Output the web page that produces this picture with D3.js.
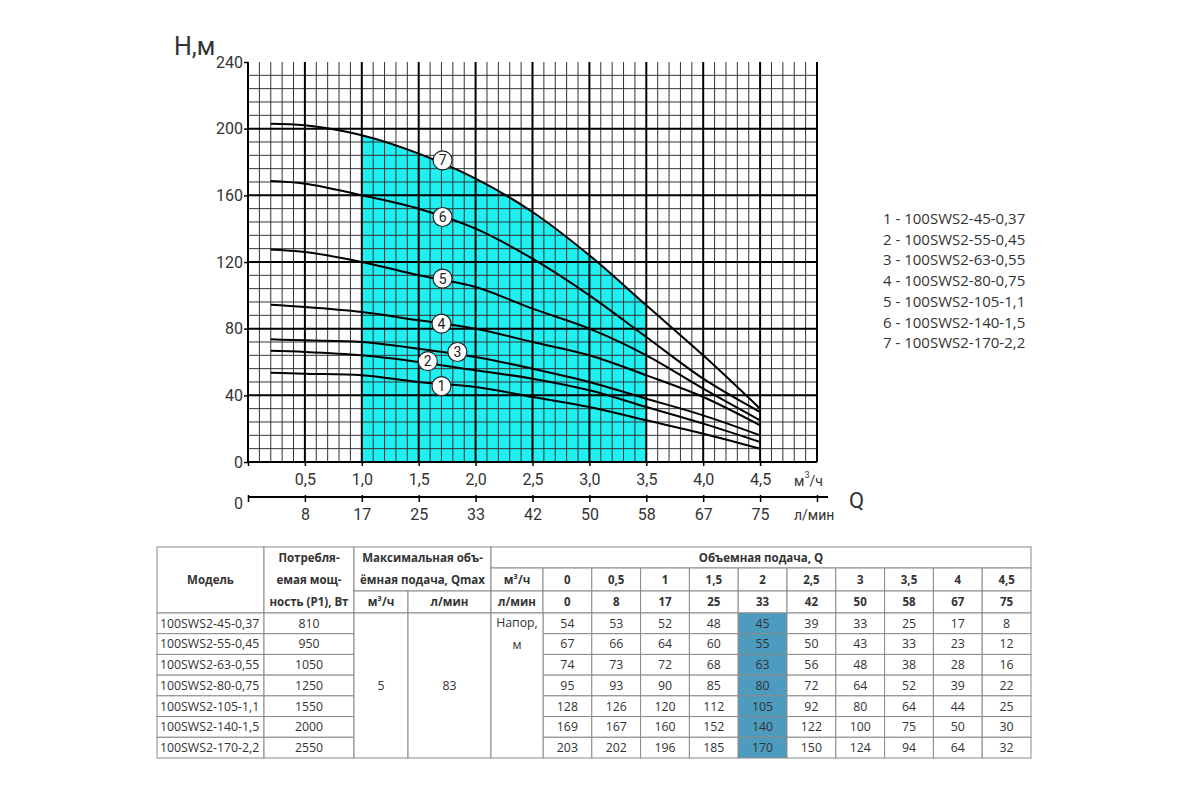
<!DOCTYPE html>
<html><head><meta charset="utf-8">
<script src="https://cdn.jsdelivr.net/npm/d3@7"></script>
<style>
body{margin:0;background:#fff;}
svg{display:block;}
</style></head><body>
<svg id="c" width="1200" height="800"></svg>
<script>
// ---------- data ----------
const qM3 = [0, 0.5, 1, 1.5, 2, 2.5, 3, 3.5, 4, 4.5];
const qLabelsM3 = ["0", "0,5", "1", "1,5", "2", "2,5", "3", "3,5", "4", "4,5"];
const qLabelsLmin = ["0", "8", "17", "25", "33", "42", "50", "58", "67", "75"];
const axisM3Labels = ["", "0,5", "1,0", "1,5", "2,0", "2,5", "3,0", "3,5", "4,0", "4,5"];
const axisLminLabels = ["", "8", "17", "25", "33", "42", "50", "58", "67", "75"];
const yTicks = [0, 40, 80, 120, 160, 200, 240];
const models = ["100SWS2-45-0,37", "100SWS2-55-0,45", "100SWS2-63-0,55", "100SWS2-80-0,75",
                "100SWS2-105-1,1", "100SWS2-140-1,5", "100SWS2-170-2,2"];
const power = [810, 950, 1050, 1250, 1550, 2000, 2550];
const head1 = [54, 53, 52, 48, 45, 39, 33, 25, 17, 8];
const head2 = [67, 66, 64, 60, 55, 50, 43, 33, 23, 12];
const head3 = [74, 73, 72, 68, 63, 56, 48, 38, 28, 16];
const head4 = [95, 93, 90, 85, 80, 72, 64, 52, 39, 22];
const head5 = [128, 126, 120, 112, 105, 92, 80, 64, 44, 25];
const head6 = [169, 167, 160, 152, 140, 122, 100, 75, 50, 30];
const head7 = [203, 202, 196, 185, 170, 150, 124, 94, 64, 32];
const heads = [head1, head2, head3, head4, head5, head6, head7];
const qmaxM3 = "5", qmaxLmin = "83";
const highlightQ = 2;
const workStart = 1.0, workEnd = 3.5;
const curveStart = 0.2;
const labelQ = [1.70, 1.58, 1.84, 1.70, 1.71, 1.71, 1.71];
const labelH = [45.5, 60.5, 66, 83, 110, 147, 181];

// ---------- setup ----------
const svg = d3.select("#c");
const chartFont = "Roboto, 'DejaVu Sans', sans-serif";
const tableFont = "'Open Sans', 'Noto Sans', sans-serif";
const x = d3.scaleLinear().domain([0, 5]).range([248, 817]);
const y = d3.scaleLinear().domain([0, 240]).range([462, 62]);
const curveType = d3.curveCatmullRom.alpha(0.5);

const defs = svg.append("defs");
defs.append("clipPath").attr("id", "workClip").append("rect")
  .attr("x", x(workStart)).attr("y", 0).attr("width", x(workEnd) - x(workStart)).attr("height", 800);
defs.append("clipPath").attr("id", "curveClip").append("rect")
  .attr("x", x(curveStart)).attr("y", 0).attr("width", x(5) - x(curveStart)).attr("height", 800);

// working area fill (under curve 7)
const pts7 = qM3.map((q, i) => ({q, h: head7[i]}));
const area = d3.area().x(d => x(d.q)).y0(y(0)).y1(d => y(d.h)).curve(curveType);
svg.append("path").datum(pts7).attr("d", area)
  .attr("fill", "#1ff0f2").attr("clip-path", "url(#workClip)");

// grid
const grid = svg.append("g");
const vMinor = d3.range(0, 51).map(i => i / 10).filter((d, i) => i % 5 !== 0);
const hMinor = d3.range(0, 31).map(i => i * 8).filter((d, i) => i % 5 !== 0);
grid.selectAll(".vm").data(vMinor).join("line")
  .attr("x1", d => x(d)).attr("x2", d => x(d)).attr("y1", y(0)).attr("y2", y(240))
  .attr("stroke", "#333").attr("stroke-width", 1);
grid.selectAll(".hm").data(hMinor).join("line")
  .attr("x1", x(0)).attr("x2", x(5)).attr("y1", d => y(d)).attr("y2", d => y(d))
  .attr("stroke", "#333").attr("stroke-width", 1);
const vMajor = d3.range(0, 11).map(i => i / 2);
const hMajor = [0, 40, 80, 120, 160, 200];
grid.selectAll(".vM").data(vMajor).join("line")
  .attr("x1", d => x(d)).attr("x2", d => x(d)).attr("y1", y(0)).attr("y2", y(240))
  .attr("stroke", "#000").attr("stroke-width", 2);
grid.selectAll(".hM").data(hMajor).join("line")
  .attr("x1", x(0)).attr("x2", x(5)).attr("y1", d => y(d)).attr("y2", d => y(d))
  .attr("stroke", "#000").attr("stroke-width", 2);

// curves
const line = d3.line().x(d => x(d.q)).y(d => y(d.h)).curve(curveType);
svg.append("g").attr("clip-path", "url(#curveClip)")
  .selectAll("path").data(heads).join("path")
  .attr("d", hs => line(qM3.map((q, i) => ({q, h: hs[i]}))))
  .attr("fill", "none").attr("stroke", "#000").attr("stroke-width", 2);

// curve labels
const lab = svg.append("g").selectAll("g").data(labelQ).join("g")
  .attr("transform", (d, i) => `translate(${x(d)},${y(labelH[i])})`);
lab.append("circle").attr("r", 9.5).attr("fill", "#fff").attr("stroke", "#222").attr("stroke-width", 1.2);
lab.append("text").text((d, i) => i + 1).attr("text-anchor", "middle").attr("dy", "0.36em")
  .attr("font-family", chartFont).attr("font-size", 14).attr("fill", "#222");

// axes
function styleAxis(g) {
  g.selectAll("text").attr("font-family", chartFont).attr("font-size", 16).attr("fill", "#333");
  g.selectAll("line").attr("stroke", "#000").attr("stroke-width", 1.5);
}
const yAxis = svg.append("g").attr("transform", `translate(${x(0)},0)`)
  .call(d3.axisLeft(y).tickValues(yTicks).tickSize(4).tickPadding(1).tickFormat(d3.format("d")));
yAxis.select(".domain").remove();
styleAxis(yAxis);

const xAxis1 = svg.append("g").attr("transform", `translate(0,${y(0)})`)
  .call(d3.axisBottom(x).tickValues(qM3).tickSize(4).tickPadding(8).tickFormat((d, i) => axisM3Labels[i]));
xAxis1.select(".domain").remove();
styleAxis(xAxis1);

const axis2Y = 497;
const xAxis2 = svg.append("g").attr("transform", `translate(0,${axis2Y})`)
  .call(d3.axisBottom(x).tickValues(qM3.concat([5])).tickSize(5).tickPadding(7)
    .tickFormat((d, i) => axisLminLabels[i] || ""));
xAxis2.select(".domain").remove();
xAxis2.selectAll(".tick line").attr("y1", -2);
styleAxis(xAxis2);
svg.append("line").attr("x1", x(0)).attr("x2", x(5) + 11).attr("y1", axis2Y).attr("y2", axis2Y)
  .attr("stroke", "#000").attr("stroke-width", 1.8);
svg.append("text").text("0").attr("x", 243).attr("y", axis2Y + 6).attr("dy", "0.35em")
  .attr("text-anchor", "end").attr("font-family", chartFont).attr("font-size", 16).attr("fill", "#333");

// axis titles
svg.append("text").text("Н,м").attr("x", 174).attr("y", 55)
  .attr("font-family", chartFont).attr("font-size", 25).attr("fill", "#333");
svg.append("text").text("Q").attr("x", 849).attr("y", 508)
  .attr("font-family", chartFont).attr("font-size", 22).attr("fill", "#333");
const mt = svg.append("text").attr("x", 794).attr("y", 486)
  .attr("font-family", chartFont).attr("font-size", 14).attr("fill", "#333");
mt.append("tspan").text("м");
mt.append("tspan").text("3").attr("font-size", 9).attr("dy", -8);
mt.append("tspan").text("/ч").attr("dy", 8);
svg.append("text").text("л/мин").attr("x", 794).attr("y", 520)
  .attr("font-family", chartFont).attr("font-size", 14).attr("fill", "#333");

// legend
svg.append("g").selectAll("text").data(models).join("text")
  .attr("x", 883).attr("y", (d, i) => 224 + i * 20.7)
  .text((d, i) => `${i + 1} - ${d}`)
  .attr("font-family", tableFont).attr("font-size", 15).attr("fill", "#333");

// ---------- table ----------
const T = svg.append("g");
const colEdges = [157, 264, 354, 408, 491, 543, 1031];
const rowTop = 547, rowH1 = 568, rowH2 = 591, rowH3 = 613, rowBottom = 758;
const colQ = d3.scaleBand().domain(qM3).range([colEdges[5], colEdges[6]]);
const rowS = d3.scaleBand().domain(d3.range(models.length)).range([rowH3, rowBottom]);
const cells = [];
function cell(x0, x1, y0, y1, lines, opt = {}) { cells.push({x0, x1, y0, y1, lines, ...opt}); }
// header
cell(colEdges[0], colEdges[1], rowTop, rowH3, ["Модель"], {bold: true});
cell(colEdges[1], colEdges[2], rowTop, rowH3, ["Потребля-", "емая мощ-", "ность (P1), Вт"], {bold: true, lh: 22});
cell(colEdges[2], colEdges[4], rowTop, rowH2, ["Максимальная объ-", "ёмная подача, Qmax"], {bold: true, lh: 22});
cell(colEdges[2], colEdges[3], rowH2, rowH3, ["м³/ч"], {bold: true});
cell(colEdges[3], colEdges[4], rowH2, rowH3, ["л/мин"], {bold: true});
cell(colEdges[4], colEdges[6], rowTop, rowH1, ["Объемная подача, Q"], {bold: true});
cell(colEdges[4], colEdges[5], rowH1, rowH2, ["м³/ч"], {bold: true});
cell(colEdges[4], colEdges[5], rowH2, rowH3, ["л/мин"], {bold: true});
qM3.forEach((q, j) => {
  cell(colQ(q), colQ(q) + colQ.bandwidth(), rowH1, rowH2, [qLabelsM3[j]], {bold: true});
  cell(colQ(q), colQ(q) + colQ.bandwidth(), rowH2, rowH3, [qLabelsLmin[j]], {bold: true});
});
// body
models.forEach((m, i) => {
  const y0 = rowS(i), y1 = y0 + rowS.bandwidth();
  cell(colEdges[0], colEdges[1], y0, y1, [m], {left: true});
  cell(colEdges[1], colEdges[2], y0, y1, [String(power[i])]);
  qM3.forEach((q, j) => {
    cell(colQ(q), colQ(q) + colQ.bandwidth(), y0, y1, [String(heads[i][j])],
      {fill: q === highlightQ ? "#4d9cc0" : null});
  });
});
cell(colEdges[2], colEdges[3], rowH3, rowBottom, [qmaxM3]);
cell(colEdges[3], colEdges[4], rowH3, rowBottom, [qmaxLmin]);
cell(colEdges[4], colEdges[5], rowH3, rowBottom, ["Напор,", "м"], {top: true, lh: 22});

const cg = T.selectAll("g").data(cells).join("g");
cg.append("rect").attr("x", d => d.x0).attr("y", d => d.y0)
  .attr("width", d => d.x1 - d.x0).attr("height", d => d.y1 - d.y0)
  .attr("fill", d => d.fill || "#fff").attr("stroke", "#8a8a8a").attr("stroke-width", 1);
cg.each(function(d) {
  const g = d3.select(this);
  const n = d.lines.length, lh = d.lh || 14;
  const cy = d.top ? d.y0 + 10 : (d.y0 + d.y1) / 2 - (n - 1) * lh / 2;
  d.lines.forEach((t, k) => {
    g.append("text").text(t)
      .attr("x", d.left ? d.x0 + 3 : (d.x0 + d.x1) / 2)
      .attr("y", cy + k * lh).attr("dy", "0.35em")
      .attr("text-anchor", d.left ? "start" : "middle")
      .attr("font-family", tableFont).attr("font-size", d.bold ? 11.5 : 12.3)
      .attr("font-weight", d.bold ? 700 : 400).attr("fill", "#333");
  });
});
</script>
</body></html>
